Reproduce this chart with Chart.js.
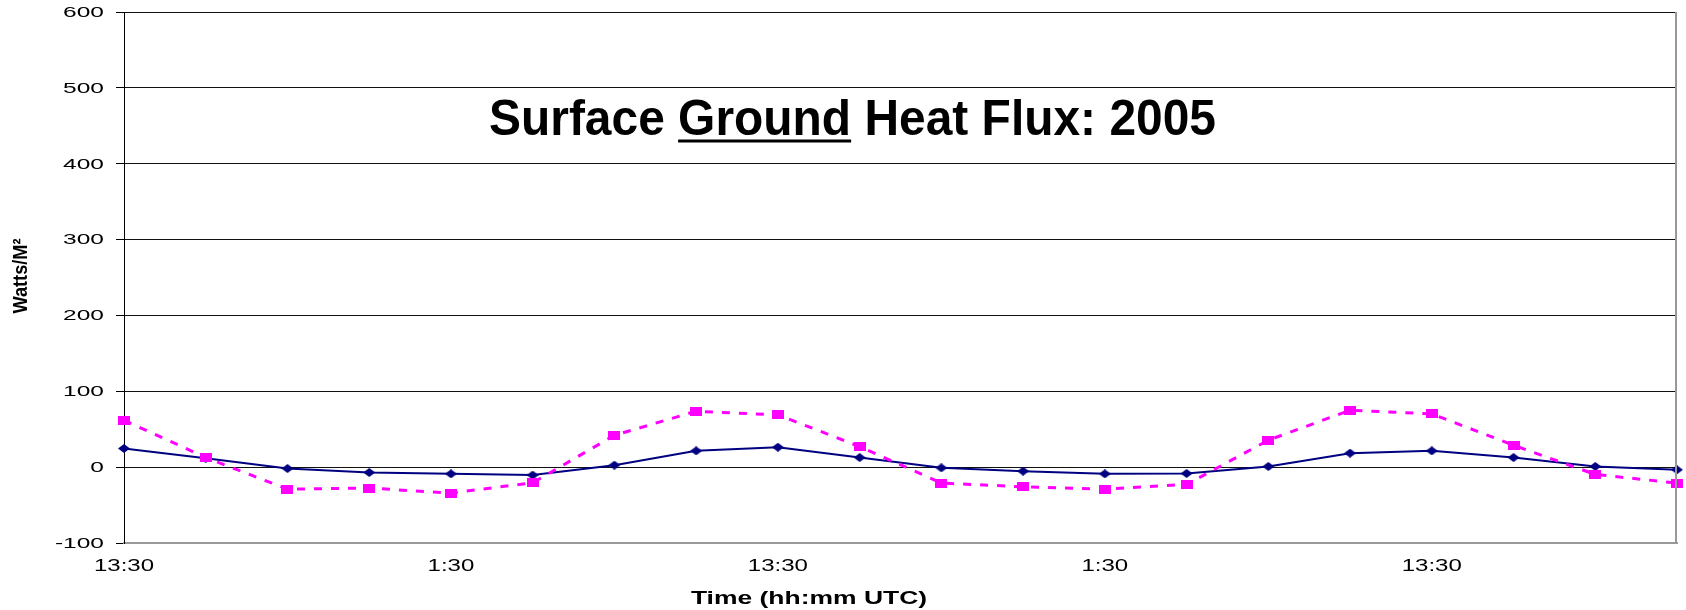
<!DOCTYPE html>
<html>
<head>
<meta charset="utf-8">
<title>Surface Ground Heat Flux: 2005</title>
<script src="https://cdn.jsdelivr.net/npm/chart.js@4.4.1/dist/chart.umd.min.js"></script>
<style>
  html, body { margin: 0; padding: 0; background: #fff; }
  #wrap { width: 1686px; height: 610px; position: relative; }
</style>
</head>
<body>
<div id="wrap"><canvas id="fluxChart"></canvas></div>
<script>
// 3-hourly readings, a time label on every 4th point
var times = ["13:30", "16:30", "19:30", "22:30", "1:30", "4:30", "7:30", "10:30",
             "13:30", "16:30", "19:30", "22:30", "1:30", "4:30", "7:30", "10:30",
             "13:30", "16:30", "19:30", "22:30"];
var labelEvery = 4;

// ground heat flux, W/m^2
var fluxSolid = [24.6, 11.8, -1.8, -7, -8.8, -10.5, 2.6, 21.5, 26.3, 12.7,
                 -0.9, -5.3, -8.8, -8.3, 0.9, 18.4, 21.5, 12.7, 0.9, -3.5];
var fluxDashed = [61.8, 12.7, -29, -27.6, -34.2, -20.6, 42, 73.7, 68.9, 27.2,
                  -21, -25.9, -28.9, -22.8, 35.5, 75, 70.2, 28.9, -9.6, -21];

var yMin = -100, yMax = 600, yStep = 100;

var titleText = ["Surface ", "Ground", " Heat Flux: 2005"];
var xTitle = "Time (hh:mm UTC)";
var yTitle = "Watts/M\u00B2";

// small canvases used as point markers (slightly wider than tall)
function makeMarker(w, h, color, diamond) {
    var c = document.createElement('canvas');
    c.width = w;
    c.height = h;
    var g = c.getContext('2d');
    g.fillStyle = color;
    if (diamond) {
        g.beginPath();
        g.moveTo(w / 2, 0);
        g.lineTo(w, h / 2);
        g.lineTo(w / 2, h);
        g.lineTo(0, h / 2);
        g.closePath();
        g.fill();
    } else {
        g.fillRect(0, 0, w, h);
    }
    return c;
}

function drawScaled(ctx, text, x, y, sx, sy) {
    ctx.save();
    ctx.translate(x, y);
    ctx.scale(sx, sy);
    ctx.fillText(text, 0, 0);
    ctx.restore();
}

var FONT = '"Liberation Sans", Arial, sans-serif';

var textPlugin = {
    id: 'stretchedText',
    afterDraw: function(chart) {
        var ctx = chart.ctx;
        var area = chart.chartArea;
        var xs = chart.scales.x;
        var ys = chart.scales.y;

        ctx.save();

        // right edge of the plot frame
        ctx.strokeStyle = '#999';
        ctx.lineWidth = 2;
        ctx.beginPath();
        ctx.moveTo(area.right - 1, area.top);
        ctx.lineTo(area.right - 1, area.bottom);
        ctx.stroke();

        ctx.fillStyle = '#000';

        // y tick labels
        ctx.font = '14px ' + FONT;
        ctx.textAlign = 'right';
        ctx.textBaseline = 'middle';
        ys.ticks.forEach(function(t) {
            drawScaled(ctx, String(t.value), 104, ys.getPixelForValue(t.value) + 1, 1.75, 1);
        });

        // x tick labels
        ctx.font = '16px ' + FONT;
        ctx.textAlign = 'center';
        for (var i = 0; i < times.length; i += labelEvery) {
            drawScaled(ctx, times[i], xs.getPixelForValue(i), 567, 1.5, 1);
        }

        // axis titles
        ctx.font = 'bold 18px ' + FONT;
        drawScaled(ctx, xTitle, 809, 599, 1.47, 1);

        ctx.save();
        ctx.translate(21, 276);
        ctx.rotate(-Math.PI / 2);
        ctx.font = 'bold 21px ' + FONT;
        var yw = ctx.measureText(yTitle).width;
        ctx.scale(75 / yw, 1);
        ctx.fillText(yTitle, 0, 0);
        ctx.restore();

        // chart title with underlined word
        ctx.font = 'bold 50px ' + FONT;
        ctx.textAlign = 'left';
        ctx.textBaseline = 'alphabetic';
        var full = titleText.join('');
        var sx = 727 / ctx.measureText(full).width;
        var x0 = 489, base = 135;
        drawScaled(ctx, full, x0, base, sx, 1);
        var uStart = x0 + ctx.measureText(titleText[0]).width * sx;
        var uWidth = ctx.measureText(titleText[1]).width * sx;
        ctx.fillRect(uStart, base + 4.5, uWidth, 3);

        ctx.restore();
    }
};

var ctx = document.getElementById('fluxChart');
var chart = new Chart(ctx, {
    type: 'line',
    data: {
        labels: times,
        datasets: [{
            label: 'Series 1',
            data: fluxSolid,
            borderColor: '#000080',
            backgroundColor: '#000080',
            borderWidth: 2,
            pointStyle: makeMarker(12, 9, '#000080', true),
            pointRadius: 6,
            tension: 0,
            order: 2
        }, {
            label: 'Series 2',
            data: fluxDashed,
            borderColor: '#FF00FF',
            backgroundColor: '#FF00FF',
            borderWidth: 3,
            borderDash: [8, 9],
            pointStyle: makeMarker(12, 9, '#FF00FF', false),
            pointRadius: 6,
            tension: 0,
            order: 1
        }]
    },
    options: {
        responsive: true,
        maintainAspectRatio: false,
        animation: false,
        layout: { padding: { top: 12, right: 2, left: 0, bottom: 0 } },
        plugins: {
            legend: { display: false },
            tooltip: { enabled: false }
        },
        scales: {
            x: {
                type: 'category',
                offset: false,
                ticks: { display: false },
                grid: { display: false },
                border: { color: '#999', width: 2 },
                afterFit: function(scale) { scale.height = 67; }
            },
            y: {
                min: yMin,
                max: yMax,
                ticks: { display: false, stepSize: yStep },
                grid: {
                    color: function(c) {
                        return c.tick && c.tick.value === yMin ? 'rgba(0,0,0,0)' : '#111';
                    },
                    tickColor: '#000',
                    tickLength: 8,
                    lineWidth: 1
                },
                border: { color: '#000', width: 1 },
                afterFit: function(scale) { scale.width = 124; }
            }
        }
    },
    plugins: [textPlugin]
});
</script>
</body>
</html>
